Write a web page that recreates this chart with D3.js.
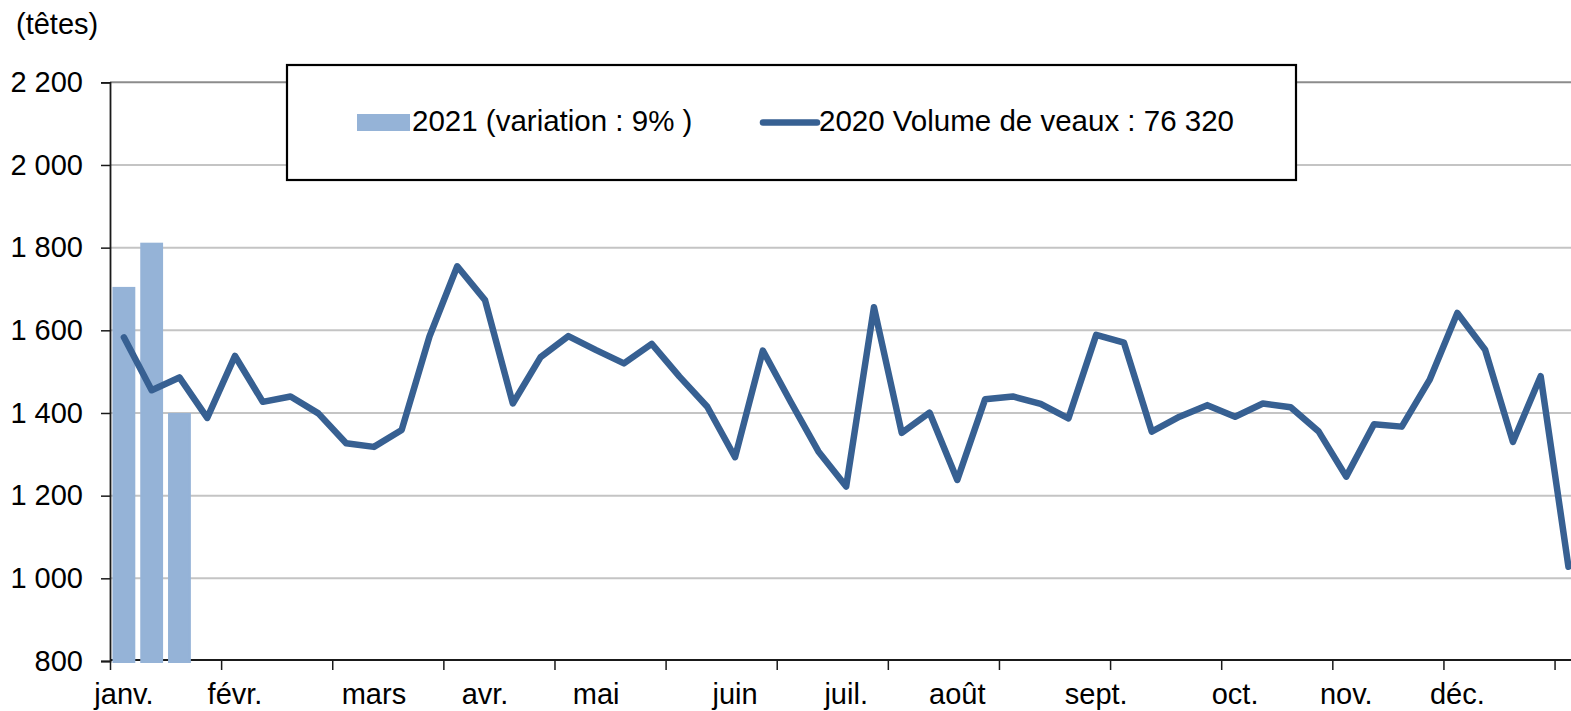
<!DOCTYPE html>
<html>
<head>
<meta charset="utf-8">
<script src="https://cdn.jsdelivr.net/npm/d3@7"></script>
<style>
  body { margin: 0; background: #fff; }
  svg { display: block; font-family: "Liberation Sans", Arial, sans-serif; }
</style>
</head>
<body>
<div id="chart"></div>
<script>
// weeks of the year (53), month name on the first week of each month
const weeks = d3.range(53);
const monthLabels = ["janv.", "févr.", "mars", "avr.", "mai", "juin", "juil.", "août", "sept.", "oct.", "nov.", "déc."];
const monthWeeks = [0, 4, 9, 13, 17, 22, 26, 30, 35, 40, 44, 48];

// 2021 weekly volumes (only 3 weeks known, then 0, last two weeks empty)
const values2021 = [1705, 1812, 1400,
  0, 0, 0, 0, 0, 0, 0, 0, 0, 0, 0, 0, 0, 0, 0, 0, 0, 0, 0, 0, 0, 0,
  0, 0, 0, 0, 0, 0, 0, 0, 0, 0, 0, 0, 0, 0, 0, 0, 0, 0, 0, 0, 0, 0,
  0, 0, 0, 0, null, null];

// 2020 weekly volumes
const values2020 = [1583, 1455, 1486, 1388, 1538, 1427, 1440, 1399, 1327, 1318,
  1359, 1585, 1755, 1673, 1423, 1535, 1586, 1552, 1520, 1567,
  1488, 1415, 1293, 1551, 1427, 1307, 1222, 1656, 1352, 1401,
  1238, 1433, 1440, 1422, 1387, 1589, 1570, 1355, 1391, 1419,
  1391, 1423, 1414, 1356, 1246, 1373, 1367, 1480, 1642, 1553,
  1330, 1489, 1028];

const yTicks = [800, 1000, 1200, 1400, 1600, 1800, 2000, 2200];
const legendLabels = ["2021 (variation : 9% )", "2020 Volume de veaux : 76 320"];

const barColor = "#95b3d7";
const lineColor = "#376092";

// Dimensions
const W = 1571, H = 711;
const plotLeft = 110, plotTop = 82.3, plotBottom = 661;
const step = 27.78;

const svg = d3.select("#chart").append("svg")
    .attr("width", W)
    .attr("height", H);

// Scales
const x = d3.scaleBand()
    .domain(weeks)
    .range([plotLeft, plotLeft + weeks.length * step])
    .paddingInner(0.25)
    .paddingOuter(0.125);

// index scale for category boundaries (tick marks)
const xIdx = d3.scaleLinear().domain([0, weeks.length]).range(x.range());

const y = d3.scaleLinear().domain([800, 2200]).range([plotBottom, plotTop]).clamp(true);

// Gridlines
svg.append("g")
    .selectAll("line")
    .data(yTicks.filter(d => d > 800))
    .join("line")
    .attr("x1", plotLeft)
    .attr("x2", W)
    .attr("y1", d => y(d))
    .attr("y2", d => y(d))
    .attr("stroke", d => d === 2200 ? "#8c8c8c" : "#c4c4c4")
    .attr("stroke-width", 2);

// X axis line (drawn under the bars so the empty weeks show as a thin blue edge)
svg.append("line")
    .attr("x1", plotLeft)
    .attr("x2", W)
    .attr("y1", plotBottom - 1)
    .attr("y2", plotBottom - 1)
    .attr("stroke", "#1a1a1a")
    .attr("stroke-width", 1.8);

// Bars 2021
svg.append("g")
    .selectAll("rect")
    .data(weeks.filter(i => values2021[i] !== null))
    .join("rect")
    .attr("x", i => x(i))
    .attr("y", i => y(values2021[i]) + 1)
    .attr("width", x.bandwidth())
    .attr("height", i => y(800) - y(values2021[i]))
    .attr("fill", barColor)
    .attr("stroke", barColor)
    .attr("stroke-width", 2);

// Line 2020
const line = d3.line()
    .x(i => x(i) + x.bandwidth() / 2)
    .y(i => y(values2020[i]));

svg.append("path")
    .datum(weeks)
    .attr("d", line)
    .attr("fill", "none")
    .attr("stroke", lineColor)
    .attr("stroke-width", 6.5)
    .attr("stroke-linejoin", "round")
    .attr("stroke-linecap", "round");

// Y axis
const yAxis = svg.append("g")
    .attr("transform", `translate(${plotLeft},0)`)
    .call(d3.axisLeft(y).tickValues(yTicks).tickSize(9).tickPadding(18)
        .tickFormat(d => d3.format(",")(d).replace(",", " ")));
yAxis.select(".domain").attr("stroke", "#1a1a1a").attr("stroke-width", 1.8);
yAxis.selectAll(".tick line").attr("stroke", "#1a1a1a").attr("stroke-width", 1.5);
yAxis.selectAll("text").style("font-size", "29px").attr("fill", "#000");

// X axis: tick marks every 4 weeks
const xTicks = svg.append("g")
    .attr("transform", `translate(0,${plotBottom})`)
    .call(d3.axisBottom(xIdx).tickValues(d3.range(0, 53, 4)).tickSize(9).tickFormat(""));
xTicks.select(".domain").remove();
xTicks.selectAll(".tick line").attr("stroke", "#1a1a1a").attr("stroke-width", 1.5);

// X axis: month labels
const xLabels = svg.append("g")
    .attr("transform", `translate(0,${plotBottom})`)
    .call(d3.axisBottom(x).tickValues(monthWeeks).tickSize(0).tickPadding(22.5)
        .tickFormat(i => monthLabels[monthWeeks.indexOf(i)]));
xLabels.select(".domain").remove();
xLabels.selectAll("text").style("font-size", "29px").attr("fill", "#000");

// Unit label
svg.append("text")
    .attr("x", 16)
    .attr("y", 34)
    .style("font-size", "29px")
    .text("(têtes)");

// Legend
const legend = svg.append("g");
legend.append("rect")
    .attr("x", 287)
    .attr("y", 65)
    .attr("width", 1009)
    .attr("height", 115)
    .attr("fill", "#fff")
    .attr("stroke", "#000")
    .attr("stroke-width", 2.2);

legend.append("rect")
    .attr("x", 357)
    .attr("y", 114)
    .attr("width", 53)
    .attr("height", 17)
    .attr("fill", barColor);

legend.append("text")
    .attr("x", 412)
    .attr("y", 131)
    .style("font-size", "29.5px")
    .text(legendLabels[0]);

legend.append("line")
    .attr("x1", 763)
    .attr("x2", 817)
    .attr("y1", 122.5)
    .attr("y2", 122.5)
    .attr("stroke", lineColor)
    .attr("stroke-width", 6.5)
    .attr("stroke-linecap", "round");

legend.append("text")
    .attr("x", 819)
    .attr("y", 131)
    .style("font-size", "29.5px")
    .text(legendLabels[1]);
</script>
</body>
</html>
